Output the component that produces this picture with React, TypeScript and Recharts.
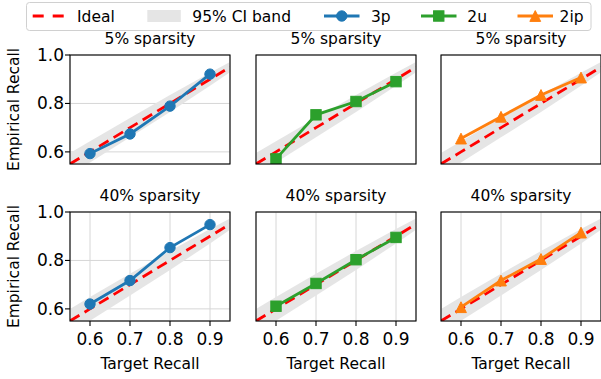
import React from 'react';
import { ComposedChart, Line, Area, XAxis, YAxis, CartesianGrid } from 'recharts';

const targets = [0.6, 0.7, 0.8, 0.9];
const bandX = [0.55, 0.6, 0.7, 0.8, 0.9, 0.95];
const bandHalf5 = [0.045, 0.044, 0.04, 0.035, 0.027, 0.021];
const bandHalf40 = [0.05, 0.049, 0.045, 0.039, 0.03, 0.023];

const recall3p5 = [0.593, 0.674, 0.789, 0.921];
const recall2u5 = [0.571, 0.753, 0.808, 0.89];
const recall2ip5 = [0.655, 0.745, 0.835, 0.907];
const recall3p40 = [0.62, 0.717, 0.853, 0.948];
const recall2u40 = [0.611, 0.705, 0.803, 0.895];
const recall2ip40 = [0.607, 0.717, 0.806, 0.915];

const xTicks = [0.6, 0.7, 0.8, 0.9];
const yTicks = [0.6, 0.8, 1.0];
const xDomain: [number, number] = [0.55, 0.95];
const yDomain: [number, number] = [0.55, 1.0];
const rowTitles = ['5% sparsity', '40% sparsity'];
const methods = ['3p', '2u', '2ip'];
const legendLabels = ['Ideal', '95% CI band', '3p', '2u', '2ip'];

const COLORS: Record<string, string> = { '3p': '#1f77b4', '2u': '#2ca02c', '2ip': '#ff7f0e' };
const SHAPES: Record<string, string> = { '3p': 'circle', '2u': 'square', '2ip': 'triangle' };
const FONT = 'DejaVu Sans';

const colLefts = [70, 256, 441];
const rowTops = [55, 212];
const PW = 160;
const PH = 109;
const YW = 60;
const MT = 14;
const XH = 40;

function Marker({ shape, color, cx, cy }: { shape: string; color: string; cx: number; cy: number }) {
  if (shape === 'circle') return <circle cx={cx} cy={cy} r={5.2} fill={color} stroke={color} />;
  if (shape === 'square') return <rect x={cx - 5.2} y={cy - 5.2} width={10.4} height={10.4} fill={color} stroke={color} />;
  const s = 5.4;
  return (
    <polygon
      points={`${cx},${cy - s} ${cx - s},${cy + s} ${cx + s},${cy + s}`}
      fill={color}
      stroke={color}
    />
  );
}

function buildData(values: number[], half: number[]) {
  return bandX.map((x, i) => {
    const ti = targets.indexOf(x);
    return {
      x,
      ideal: x,
      band: [x - half[i], x + half[i]],
      val: ti >= 0 ? values[ti] : null,
    };
  });
}

function Panel({ values, half, method, showX, showY, left, top }: any) {
  const color = COLORS[method];
  const shape = SHAPES[method];
  const data = buildData(values, half);
  const dot = (p: any) => {
    const k = `dot-${p.index}`;
    if (p.value == null || p.cx == null || p.cy == null) return <g key={k} />;
    return (
      <g key={k}>
        <Marker shape={shape} color={color} cx={p.cx} cy={p.cy} />
      </g>
    );
  };
  const tickStyle = { fill: '#000', fontSize: 17, fontFamily: FONT };
  return (
    <div style={{ position: 'absolute', left: left - YW, top: top - MT }}>
      <ComposedChart
        width={PW + YW + 5}
        height={PH + MT + XH}
        data={data}
        margin={{ top: MT, right: 5, left: 0, bottom: 0 }}
      >
        <CartesianGrid stroke="#d6d6d6" strokeWidth={1} />
        <XAxis
          type="number"
          dataKey="x"
          domain={xDomain}
          ticks={xTicks}
          allowDataOverflow
          height={XH}
          axisLine={false}
          tickLine={{ stroke: '#000', strokeWidth: 1.1 }}
          tickSize={5}
          tickMargin={7}
          interval={0}
          tick={showX ? tickStyle : false}
          tickFormatter={(v: number) => v.toFixed(1)}
        />
        <YAxis
          type="number"
          domain={yDomain}
          ticks={yTicks}
          allowDataOverflow
          width={YW}
          axisLine={false}
          tickLine={{ stroke: '#000', strokeWidth: 1.1 }}
          tickSize={5}
          tickMargin={1}
          interval={0}
          tick={showY ? tickStyle : false}
          tickFormatter={(v: number) => v.toFixed(1)}
        />
        <Area
          dataKey="band"
          type="linear"
          stroke="none"
          fill="#e5e5e5"
          fillOpacity={1}
          isAnimationActive={false}
          activeDot={false}
        />
        <Line
          dataKey="ideal"
          type="linear"
          stroke="#ff0000"
          strokeWidth={2.8}
          strokeDasharray="11 6"
          dot={false}
          activeDot={false}
          isAnimationActive={false}
        />
        <Line
          dataKey="val"
          type="linear"
          stroke={color}
          strokeWidth={2.8}
          dot={dot}
          activeDot={false}
          connectNulls={false}
          isAnimationActive={false}
        />
      </ComposedChart>
    </div>
  );
}

export default function App() {
  const rows = [
    [recall3p5, recall2u5, recall2ip5],
    [recall3p40, recall2u40, recall2ip40],
  ];
  const halves = [bandHalf5, bandHalf40];
  const textStyle = { fontFamily: FONT, fontSize: 15.5, fill: '#000' } as any;
  const ly = 16;
  return (
    <div
      style={{
        position: 'absolute',
        left: 0,
        top: 0,
        width: 601,
        height: 379,
        overflow: 'hidden',
        background: '#fff',
      }}
    >
      {rows.map((r, ri) =>
        r.map((vals, ci) => (
          <Panel
            key={`${ri}-${ci}`}
            values={vals}
            half={halves[ri]}
            method={methods[ci]}
            showX={ri === 1}
            showY={ci === 0}
            left={colLefts[ci]}
            top={rowTops[ri]}
          />
        ))
      )}
      <svg
        width={601}
        height={379}
        style={{ position: 'absolute', left: 0, top: 0, pointerEvents: 'none' }}
      >
        {rowTops.map((t, ri) =>
          colLefts.map((l, ci) => (
            <rect
              key={`f-${ri}-${ci}`}
              x={l}
              y={t}
              width={PW}
              height={PH}
              fill="none"
              stroke="#000"
              strokeWidth={1.1}
            />
          ))
        )}
        {rowTops.map((t, ri) =>
          colLefts.map((l, ci) => (
            <text
              key={`t-${ri}-${ci}`}
              x={l + PW / 2}
              y={ri === 0 ? 44 : 201}
              textAnchor="middle"
              style={textStyle}
            >
              {rowTitles[ri]}
            </text>
          ))
        )}
        {colLefts.map((l, ci) => (
          <text key={`xl-${ci}`} x={l + PW / 2} y={368.5} textAnchor="middle" style={textStyle}>
            Target Recall
          </text>
        ))}
        {rowTops.map((t, ri) => (
          <text
            key={`yl-${ri}`}
            transform={`translate(18.5, ${t + PH / 2}) rotate(-90)`}
            textAnchor="middle"
            style={textStyle}
          >
            Empirical Recall
          </text>
        ))}
        {/* legend */}
        <rect x={26.5} y={2.5} width={564.5} height={28} rx={3} fill="#fff" fillOpacity={0.8} stroke="#d0d0d0" strokeWidth={1} />
        <line x1={32.7} y1={ly} x2={64.6} y2={ly} stroke="#ff0000" strokeWidth={2.8} strokeDasharray="11 9" />
        <text x={77} y={ly + 5.5} style={textStyle}>{legendLabels[0]}</text>
        <rect x={147.3} y={ly - 6} width={33.5} height={12} fill="#e5e5e5" />
        <text x={192.3} y={ly + 5.5} style={textStyle}>{legendLabels[1]}</text>
        {[
          { x1: 324, tx: 371, m: '3p', label: legendLabels[2] },
          { x1: 421, tx: 467.3, m: '2u', label: legendLabels[3] },
          { x1: 517.5, tx: 559.6, m: '2ip', label: legendLabels[4] },
        ].map((it) => (
          <g key={it.m}>
            <line x1={it.x1} y1={ly} x2={it.x1 + 35.5} y2={ly} stroke={COLORS[it.m]} strokeWidth={2.8} />
            <Marker shape={SHAPES[it.m]} color={COLORS[it.m]} cx={it.x1 + 17.75} cy={ly} />
            <text x={it.tx} y={ly + 5.5} style={textStyle}>{it.label}</text>
          </g>
        ))}
      </svg>
    </div>
  );
}
